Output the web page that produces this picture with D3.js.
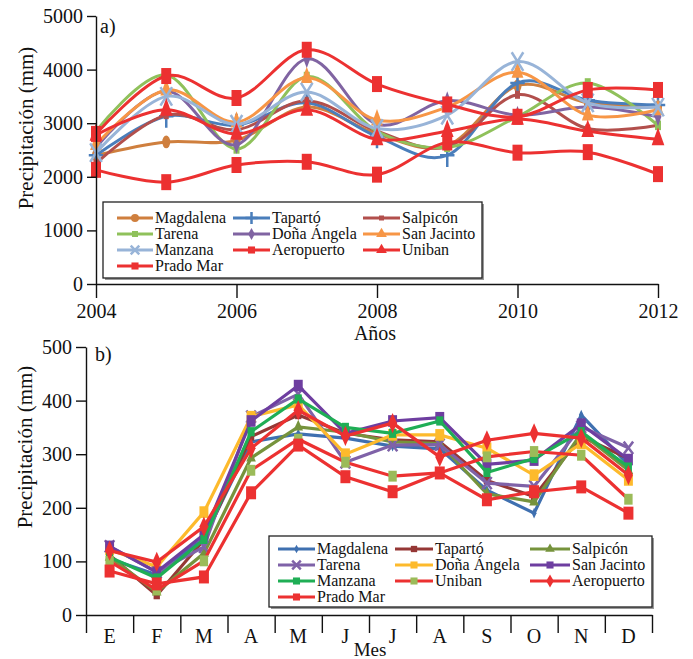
<!DOCTYPE html>
<html>
<head>
<meta charset="utf-8">
<script src="https://cdn.jsdelivr.net/npm/d3@7"></script>
<style>
  body { margin: 0; background: #fff; }
  svg text { font-family: "Liberation Serif", Tinos, "Times New Roman", "DejaVu Serif", serif; fill: #111; }
</style>
</head>
<body>
<svg id="chart" width="693" height="659"></svg>
<script>
// a) annual totals
const years = [2004, 2005, 2006, 2007, 2008, 2009, 2010, 2011, 2012];
const yearTicks = [2004, 2006, 2008, 2010, 2012];
const annualTicks = [0, 1000, 2000, 3000, 4000, 5000];
const annualMagdalena = [2400, 2650, 2680, 3300, 2800, 2580, 3700, 3380, 3300];
const annualTaparto = [2400, 3130, 2960, 3380, 2750, 2400, 3750, 3430, 3340];
const annualSalpicon = [2250, 3150, 2880, 3420, 2850, 2560, 3530, 2900, 2960];
const annualTarena = [2850, 3900, 2520, 3870, 2850, 2550, 3120, 3750, 2960];
const annualDonaAngela = [2550, 3600, 2600, 4200, 2980, 3420, 3150, 3300, 3120];
const annualSanJacinto = [2600, 3620, 3020, 3850, 3060, 3300, 3950, 3150, 3250];
const annualManzana = [2450, 3500, 2980, 3580, 2900, 3150, 4150, 3380, 3300];
const annualAeropuerto = [2800, 3880, 3470, 4370, 3730, 3350, 3120, 3620, 3620];
const annualUniban = [2780, 3250, 2800, 3250, 2700, 2850, 3080, 2850, 2700];
const annualPradoMar = [2130, 1900, 2220, 2280, 2040, 2640, 2450, 2460, 2050];

// b) monthly means
const months = ["E", "F", "M", "A", "M", "J", "J", "A", "S", "O", "N", "D"];
const monthlyTicks = [0, 100, 200, 300, 400, 500];
const monthlyMagdalena = [105, 75, 143, 323, 338, 330, 315, 310, 233, 190, 373, 280];
const monthlyTaparto = [112, 37, 140, 333, 373, 339, 327, 323, 251, 221, 333, 292];
const monthlySalpicon = [108, 43, 115, 293, 351, 341, 323, 320, 226, 211, 339, 270];
const monthlyTarena = [128, 80, 127, 370, 412, 285, 317, 318, 246, 240, 351, 312];
const monthlyDonaAngela = [122, 90, 192, 370, 392, 300, 336, 336, 311, 261, 320, 252];
const monthlySanJacinto = [128, 80, 150, 362, 428, 339, 362, 368, 281, 289, 356, 290];
const monthlyManzana = [108, 69, 141, 342, 403, 350, 339, 362, 266, 292, 342, 276];
const monthlyUniban = [100, 47, 101, 270, 328, 285, 259, 265, 295, 305, 298, 216];
const monthlyAeropuerto = [120, 99, 165, 311, 382, 334, 358, 295, 326, 339, 330, 261];
const monthlyPradoMar = [82, 58, 71, 228, 317, 258, 230, 265, 215, 230, 239, 190];

const annualSeries = [
  { name: "Magdalena", values: annualMagdalena, color: "#cf7f3e", mark: { type: d3.symbolCircle, size: 50 } },
  { name: "Tapartó", values: annualTaparto, color: "#4a7ebb", mark: { type: d3.symbolPlus, size: 70, stroke: true } },
  { name: "Salpicón", values: annualSalpicon, color: "#b24f4c", mark: { type: d3.symbolSquare, size: 25 } },
  { name: "Tarena", values: annualTarena, color: "#8fc15b", mark: { type: d3.symbolSquare, size: 36 } },
  { name: "Doña Ángela", values: annualDonaAngela, color: "#8064a2", mark: { type: d3.symbolDiamond, size: 40 } },
  { name: "San Jacinto", values: annualSanJacinto, color: "#f79646", mark: { type: d3.symbolTriangle, size: 60 } },
  { name: "Manzana", values: annualManzana, color: "#98b4d8", mark: { type: d3.symbolTimes, size: 90, stroke: true } },
  { name: "Aeropuerto", values: annualAeropuerto, color: "#ec3131", mark: { type: d3.symbolSquare, size: 100 } },
  { name: "Uniban", values: annualUniban, color: "#ec3131", mark: { type: d3.symbolTriangle, size: 70 } },
  { name: "Prado Mar", values: annualPradoMar, color: "#ec3131", mark: { type: d3.symbolSquare, size: 100 } }
];

const monthlySeries = [
  { name: "Magdalena", values: monthlyMagdalena, color: "#3f70b0", mark: { type: d3.symbolDiamond, size: 20 } },
  { name: "Tapartó", values: monthlyTaparto, color: "#953735", mark: { type: d3.symbolSquare, size: 40 } },
  { name: "Salpicón", values: monthlySalpicon, color: "#76933c", mark: { type: d3.symbolTriangle, size: 40 } },
  { name: "Tarena", values: monthlyTarena, color: "#7f62a8", mark: { type: d3.symbolTimes, size: 60, stroke: true } },
  { name: "Doña Ángela", values: monthlyDonaAngela, color: "#fdba2c", mark: { type: d3.symbolSquare, size: 80 } },
  { name: "San Jacinto", values: monthlySanJacinto, color: "#6e3ea0", mark: { type: d3.symbolSquare, size: 80 } },
  { name: "Manzana", values: monthlyManzana, color: "#1fae55", mark: { type: d3.symbolSquare, size: 50 } },
  { name: "Uniban", values: monthlyUniban, color: "#ec3131", mark: { type: d3.symbolSquare, size: 70, fill: "#9bbb59" } },
  { name: "Aeropuerto", values: monthlyAeropuerto, color: "#ec3131", mark: { type: d3.symbolDiamond, size: 70 } },
  { name: "Prado Mar", values: monthlyPradoMar, color: "#ec3131", mark: { type: d3.symbolSquare, size: 100 } }
];

const FONT = '"Liberation Serif", Tinos, "Times New Roman", "DejaVu Serif", serif';
const svg = d3.select("#chart");

function drawMark(g, mark, color, x, y, sy) {
  const p = g.append("path")
    .attr("d", d3.symbol().type(mark.type).size(mark.size)())
    .attr("transform", `translate(${x},${y}) scale(1,${sy})`);
  if (mark.stroke) {
    p.attr("fill", "none").attr("stroke", color).attr("stroke-width", 2.5)
      .attr("vector-effect", "non-scaling-stroke");
  } else {
    p.attr("fill", mark.fill || color);
  }
}

function styleAxis(g, size) {
  g.attr("font-family", FONT).attr("font-size", size);
  g.selectAll("text").style("font-family", FONT).style("font-size", size + "px").attr("fill", "#111");
  g.selectAll("line, path").attr("stroke", "#111").attr("stroke-width", 1.4);
}

function label(x, y, size, str) {
  return svg.append("text").attr("x", x).attr("y", y)
    .style("font-family", FONT).style("font-size", size + "px").text(str);
}

function drawLegend(series, box, cols, rows) {
  const g = svg.append("g");
  g.append("rect").attr("x", box.x + 2).attr("y", box.y + 2)
    .attr("width", box.w).attr("height", box.h).attr("fill", "#999");
  g.append("rect").attr("x", box.x).attr("y", box.y)
    .attr("width", box.w).attr("height", box.h)
    .attr("fill", "#fff").attr("stroke", "#222").attr("stroke-width", 1.3);
  series.forEach((s, i) => {
    const c = cols[i % 3];
    const cy = rows[Math.floor(i / 3)];
    g.append("line").attr("x1", c.x0).attr("x2", c.x1).attr("y1", cy).attr("y2", cy)
      .attr("stroke", s.color).attr("stroke-width", 3);
    const m = Object.assign({}, s.mark, { size: Math.min(s.mark.size, 50) });
    drawMark(g, m, s.color, (c.x0 + c.x1) / 2, cy, 1);
    g.append("text").attr("x", c.x1 + 2).attr("y", cy + 5)
      .style("font-family", FONT).style("font-size", "16px").text(s.name);
  });
}

// ---------- a) ----------
const x1 = d3.scaleLinear().domain([2004, 2012]).range([96, 658]);
const y1 = d3.scaleLinear().domain([0, 5000]).range([284, 16]);

const line1 = d3.line()
  .x((d, i) => x1(years[i]))
  .y(d => y1(d))
  .curve(d3.curveCatmullRom.alpha(0));

const gA = svg.append("g");
annualSeries.forEach(s => {
  gA.append("path").datum(s.values)
    .attr("fill", "none").attr("stroke", s.color).attr("stroke-width", 3)
    .attr("d", line1);
  s.values.forEach((v, i) => drawMark(gA, s.mark, s.color, x1(years[i]), y1(v), 1.6));
});

svg.append("g").attr("transform", "translate(0,284)")
  .call(d3.axisBottom(x1).tickValues(yearTicks).tickFormat(d3.format("d"))
    .tickSizeInner(14).tickSizeOuter(0).tickPadding(6))
  .call(g => styleAxis(g, 20));

svg.append("g").attr("transform", "translate(96,0)")
  .call(d3.axisLeft(y1).tickValues(annualTicks).tickFormat(d3.format("d"))
    .tickSizeInner(9).tickSizeOuter(0).tickPadding(4))
  .call(g => styleAxis(g, 20));

label(100, 33, 20, "a)");
label(375, 340, 20, "Años").attr("text-anchor", "middle");
label(0, 0, 21, "Precipitación (mm)")
  .attr("transform", "translate(33,128) rotate(-90)").attr("text-anchor", "middle");

drawLegend(annualSeries,
  { x: 103, y: 202, w: 379, h: 76 },
  [{ x0: 117, x1: 153 }, { x0: 233, x1: 270 }, { x0: 363, x1: 400 }],
  [218, 234, 250, 266]);

// ---------- b) ----------
const x2 = d3.scaleBand().domain(d3.range(months.length)).range([86, 652]).padding(0);
const x2edges = d3.scaleLinear().domain([0, months.length]).range([86, 652]);
const y2 = d3.scaleLinear().domain([0, 500]).range([615, 347]);

const line2 = d3.line()
  .x((d, i) => x2(i) + x2.bandwidth() / 2)
  .y(d => y2(d));

const gB = svg.append("g");
monthlySeries.forEach(s => {
  gB.append("path").datum(s.values)
    .attr("fill", "none").attr("stroke", s.color).attr("stroke-width", 3.2)
    .attr("d", line2);
  s.values.forEach((v, i) => drawMark(gB, s.mark, s.color, x2(i) + x2.bandwidth() / 2, y2(v), 1.3));
});

svg.append("g").attr("transform", "translate(0,615)")
  .call(d3.axisBottom(x2edges).ticks(months.length).tickFormat("").tickSizeInner(18).tickSizeOuter(0))
  .call(g => styleAxis(g, 20));
svg.append("g").attr("transform", "translate(0,615)")
  .call(d3.axisBottom(x2).tickFormat(i => months[i]).tickSize(0).tickPadding(14))
  .call(g => styleAxis(g, 20))
  .call(g => g.select(".domain").remove());

svg.append("g").attr("transform", "translate(86,0)")
  .call(d3.axisLeft(y2).tickValues(monthlyTicks).tickFormat(d3.format("d"))
    .tickSizeInner(10).tickSizeOuter(0).tickPadding(4))
  .call(g => styleAxis(g, 20));

label(95, 361, 20, "b)");
label(370, 656, 19, "Mes").attr("text-anchor", "middle");
label(0, 0, 21, "Precipitación (mm)")
  .attr("transform", "translate(32,447) rotate(-90)").attr("text-anchor", "middle");

drawLegend(monthlySeries,
  { x: 269, y: 536, w: 383, h: 71 },
  [{ x0: 278, x1: 315 }, { x0: 395, x1: 433 }, { x0: 530, x1: 570 }],
  [549, 565, 581, 597]);
</script>
</body>
</html>
